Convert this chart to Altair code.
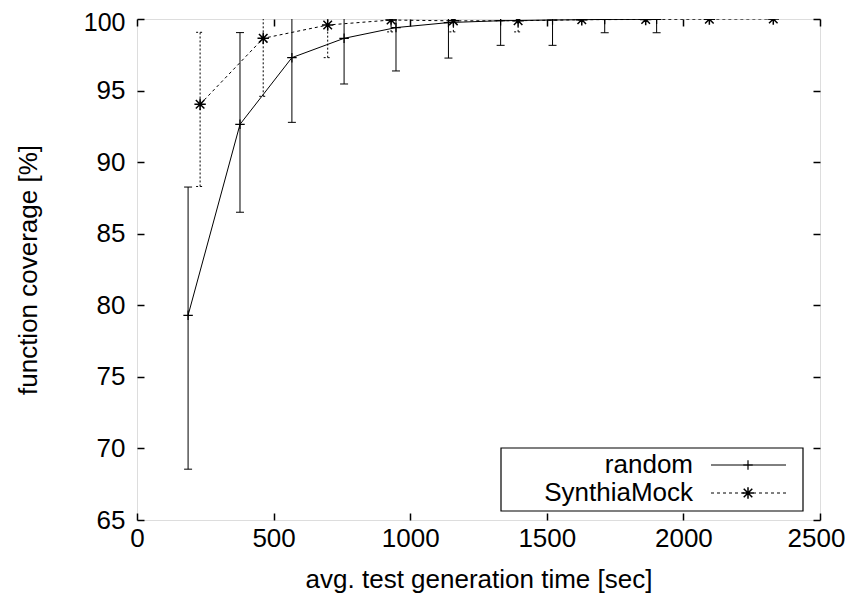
import altair as alt
import pandas as pd

# ---------------- data ----------------
series_names = ["random", "SynthiaMock"]

random_time = [187, 377, 567, 758, 948, 1140, 1331, 1521, 1712, 1902]
random_cov = [79.3, 92.64, 97.3, 98.65, 99.4, 99.75, 99.88, 99.93, 99.97, 99.98]
random_lo = [68.55, 86.5, 92.78, 95.46, 96.37, 97.27, 98.16, 98.16, 99.04, 99.04]
random_hi = [88.26, 99.05, 101.8, 101.8, 102.4, 102.2, 101.6, 101.7, 100.9, 100.9]

synthia_time = [231, 462, 698, 930, 1158, 1395, 1628, 1862, 2095, 2329]
synthia_cov = [94.04, 98.65, 99.58, 99.93, 99.87, 99.88, 99.95, 99.97, 99.99, 100.0]
synthia_lo = [88.3, 94.6, 97.3, 99.1, 99.1, 99.1, 99.95, 99.97, 99.99, 100.0]
synthia_hi = [99.07, 102.7, 101.9, 100.8, 100.6, 100.6, 99.95, 99.97, 99.99, 100.0]

x_ticks = [0, 500, 1000, 1500, 2000, 2500]
y_ticks = [65, 70, 75, 80, 85, 90, 95, 100]

x_title = "avg. test generation time [sec]"
y_title = "function coverage [%]"

# ---------------- style ----------------
W, H = 683, 501
FONT = "Liberation Sans"
FS = 26
PLUS = "M-1,0L1,0M0,-1L0,1"
STAR = "M-1,0L1,0M0,-1L0,1M-0.75,-0.75L0.75,0.75M-0.75,0.75L0.75,-0.75"

xs = alt.Scale(domain=[x_ticks[0], x_ticks[-1]], nice=False, zero=False)
ys = alt.Scale(domain=[y_ticks[0], y_ticks[-1]], nice=False, zero=False)

df_r = pd.DataFrame({"time": random_time, "cov": random_cov,
                     "lo": random_lo, "hi": random_hi})
df_s = pd.DataFrame({"time": synthia_time, "cov": synthia_cov,
                     "lo": synthia_lo, "hi": synthia_hi})


def series_layers(df, line_dash, err_dash, shape, size, mw):
    base = alt.Chart(df)
    X = alt.X("time:Q", scale=xs, axis=None)
    line_kw = {"color": "black", "strokeWidth": 1, "clip": True}
    if line_dash:
        line_kw["strokeDash"] = line_dash
    err_kw = {"color": "black", "strokeWidth": 1, "clip": True}
    if err_dash:
        err_kw["strokeDash"] = err_dash
    line = base.mark_line(**line_kw).encode(
        x=X, y=alt.Y("cov:Q", scale=ys, axis=None))
    bar = base.mark_rule(**err_kw).encode(
        x=X, y=alt.Y("lo:Q", scale=ys, axis=None), y2="hi:Q")
    cap_lo = base.mark_rule(xOffset=-4, x2Offset=4, **err_kw).encode(
        x=X, x2="time:Q", y=alt.Y("lo:Q", scale=ys, axis=None))
    cap_hi = base.mark_rule(xOffset=-4, x2Offset=4, **err_kw).encode(
        x=X, x2="time:Q", y=alt.Y("hi:Q", scale=ys, axis=None))
    pts = base.mark_point(shape=shape, size=size, filled=False, stroke="black",
                          strokeWidth=mw, opacity=1, clip=True).encode(
        x=X, y=alt.Y("cov:Q", scale=ys, axis=None))
    return [bar, cap_lo, cap_hi, line, pts]


# ---------------- axes (gnuplot-like frame with inward ticks) ----------------
ax_base = alt.Chart(df_r).mark_point(opacity=0)

axis_main = ax_base.encode(
    x=alt.X("time:Q", scale=xs, axis=alt.Axis(
        orient="bottom", values=x_ticks, ticks=False, tickSize=0, domain=False,
        grid=False, labelFont=FONT, labelFontSize=FS, labelColor="black",
        labelPadding=5, labelFlush=False, labelOverlap=False, format="d",
        labelOffset={"condition": {"test": "datum.value == 2500", "value": -4},
                     "value": 0},
        title=x_title, titleFont=FONT, titleFontSize=FS, titleFontWeight="normal",
        titleColor="black", titleY=59, titleBaseline="middle")),
    y=alt.Y("cov:Q", scale=ys, axis=alt.Axis(
        orient="left", values=y_ticks, ticks=False, tickSize=0, domain=False,
        grid=False, labelFont=FONT, labelColor="black",
        labelFontSize={"condition": {"test": "datum.value == 100", "value": 25},
                       "value": FS},
        labelPadding=12, labelFlush=False, labelOverlap=False, format="d",
        labelBaseline="middle",
        labelOffset={"condition": {"test": "datum.value == 100", "value": 3},
                     "value": 0},
        title=y_title, titleFont=FONT, titleFontSize=FS, titleFontWeight="normal",
        titleColor="black", titleX=-109, titleY=H / 2, titleBaseline="middle")),
)


def tick_axis(orient, values, offset):
    return alt.Axis(orient=orient, values=values, offset=offset, labels=False,
                    domain=False, grid=False, ticks=True, tickSize=7,
                    tickWidth=1.5, tickColor="black", title="")


axis_in1 = ax_base.encode(
    x=alt.X("time:Q", scale=xs, axis=tick_axis("top", x_ticks, -H)),
    y=alt.Y("cov:Q", scale=ys, axis=tick_axis("right", y_ticks, -W)),
)
axis_in2 = ax_base.encode(
    x=alt.X("time:Q", scale=xs, axis=tick_axis("bottom", x_ticks, -H)),
    y=alt.Y("cov:Q", scale=ys, axis=tick_axis("left", y_ticks, -W)),
)

# ---------------- legend (gnuplot-style key, bottom right) ----------------
key_df = pd.DataFrame({"series": series_names})
key_box = alt.Chart(key_df.head(1)).mark_rect(
    fill="white", stroke="black", strokeWidth=1.2).encode(
    x=alt.value(364), x2=alt.value(666), y=alt.value(429), y2=alt.value(492))

key_layers = [key_box]
key_rows = [(series_names[0], 446, None, PLUS, 90, 1.2),
            (series_names[1], 474, [3, 3], STAR, 130, 1.5)]
for name, ky, dash, shp, sz, mw in key_rows:
    d = key_df[key_df["series"] == name]
    key_layers.append(alt.Chart(d).mark_text(
        font=FONT, fontSize=FS, align="right", baseline="middle",
        color="black").encode(
        x=alt.value(556), y=alt.value(ky), text="series:N"))
    rk = {"color": "black", "strokeWidth": 1}
    if dash:
        rk["strokeDash"] = dash
    key_layers.append(alt.Chart(d).mark_rule(**rk).encode(
        x=alt.value(574), x2=alt.value(649), y=alt.value(ky)))
    key_layers.append(alt.Chart(d).mark_point(
        shape=shp, size=sz, filled=False, stroke="black", strokeWidth=mw,
        opacity=1).encode(x=alt.value(611), y=alt.value(ky)))

layers = ([axis_main, axis_in1, axis_in2]
          + series_layers(df_r, None, None, PLUS, 90, 1.2)
          + series_layers(df_s, [3, 3], [2, 2], STAR, 130, 1.5)
          + key_layers)

chart = alt.layer(*layers).resolve_axis(
    x="independent", y="independent"
).properties(
    width=W, height=H,
    autosize=alt.AutoSizeParams(type="none"),
    padding={"left": 129, "top": 11, "right": 25, "bottom": 73},
).configure_view(
    stroke="black", strokeWidth=2
).configure(background="white")

chart.save("out.html", embed_options={"renderer": "svg", "actions": False})
